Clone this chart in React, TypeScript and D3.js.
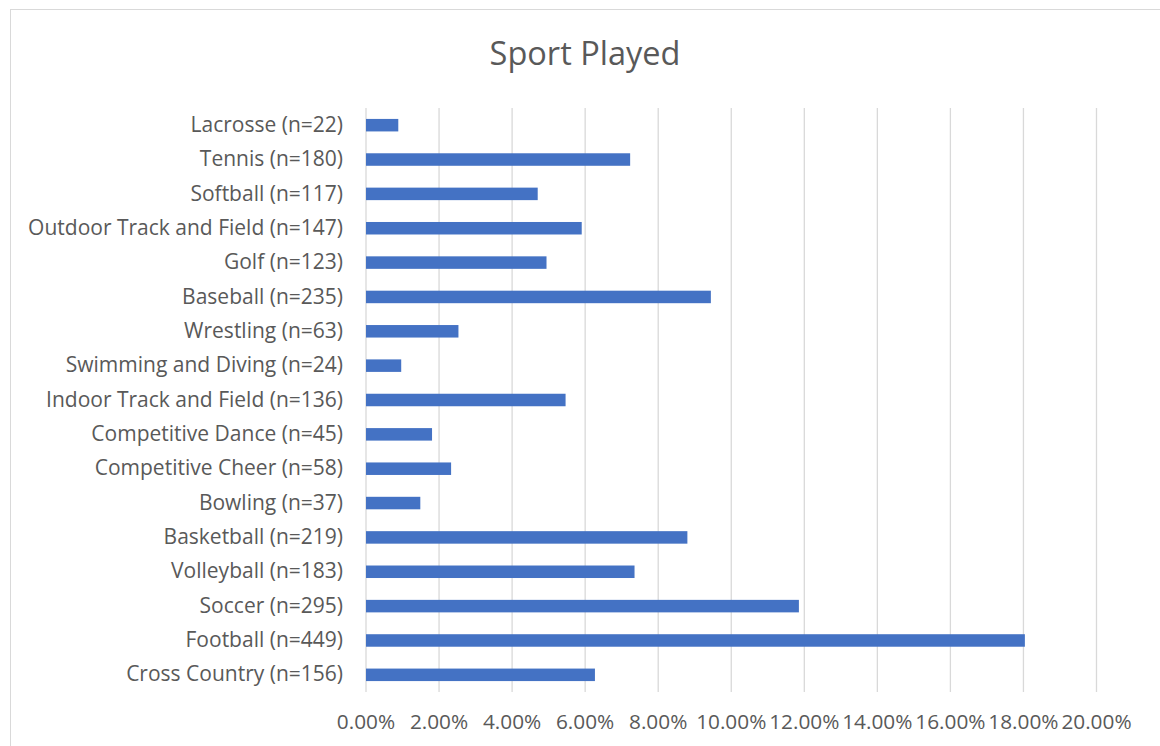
import React from "react";
import * as d3 from "d3";

const categories = [
  "Lacrosse (n=22)",
  "Tennis (n=180)",
  "Softball (n=117)",
  "Outdoor Track and Field (n=147)",
  "Golf (n=123)",
  "Baseball (n=235)",
  "Wrestling (n=63)",
  "Swimming and Diving (n=24)",
  "Indoor Track and Field (n=136)",
  "Competitive Dance (n=45)",
  "Competitive Cheer (n=58)",
  "Bowling (n=37)",
  "Basketball (n=219)",
  "Volleyball (n=183)",
  "Soccer (n=295)",
  "Football (n=449)",
  "Cross Country (n=156)",
];

const values = [
  0.884, 7.232, 4.701, 5.906, 4.942, 9.442, 2.531, 0.964, 5.464, 1.808, 2.33,
  1.487, 8.799, 7.352, 11.852, 18.039, 6.268,
];

const xTicks = [0, 2, 4, 6, 8, 10, 12, 14, 16, 18, 20];

const title = "Sport Played";

export default function App() {
  const W = 1160;
  const H = 746;
  const left = 366;
  const right = 1096.5;
  const top = 108;
  const bottom = 692;
  const font = "'Open Sans', Lato, sans-serif";
  const textColor = "#595959";

  const x = d3.scaleLinear().domain([0, 20]).range([left, right]);
  const y = d3
    .scaleBand<string>()
    .domain(categories)
    .range([top, bottom])
    .paddingInner(0.636)
    .paddingOuter(0.318);

  return (
    <svg
      width={W}
      height={H}
      style={{ position: "absolute", left: 0, top: 0, background: "#fff" }}
    >
      <rect x={0} y={0} width={W} height={H} fill="#fff" />
      <rect
        x={10.5}
        y={9.5}
        width={W + 10}
        height={H + 10}
        fill="none"
        stroke="#d9d9d9"
        strokeWidth={1}
      />
      <text
        x={585}
        y={56}
        textAnchor="middle"
        dominantBaseline="middle"
        fontFamily={font}
        fontSize={32.5}
        fill={textColor}
      >
        {title}
      </text>
      {xTicks.map((t) => (
        <line
          key={"g" + t}
          x1={x(t)}
          x2={x(t)}
          y1={top}
          y2={bottom}
          stroke="#d9d9d9"
          strokeWidth={1.3}
        />
      ))}
      {categories.map((c, i) => (
        <rect
          key={"b" + c}
          x={x(0)}
          y={y(c)}
          width={x(values[i]) - x(0)}
          height={y.bandwidth()}
          fill="#4472c4"
        />
      ))}
      {categories.map((c) => (
        <text
          key={"l" + c}
          x={343}
          y={(y(c) as number) + y.bandwidth() / 2 + 1}
          textAnchor="end"
          dominantBaseline="middle"
          fontFamily={font}
          fontSize={21}
          fill={textColor}
        >
          {c}
        </text>
      ))}
      {xTicks.map((t) => (
        <text
          key={"t" + t}
          x={x(t)}
          y={723}
          textAnchor="middle"
          dominantBaseline="middle"
          fontFamily={font}
          fontSize={20.8}
          fill={textColor}
        >
          {t.toFixed(2) + "%"}
        </text>
      ))}
    </svg>
  );
}
